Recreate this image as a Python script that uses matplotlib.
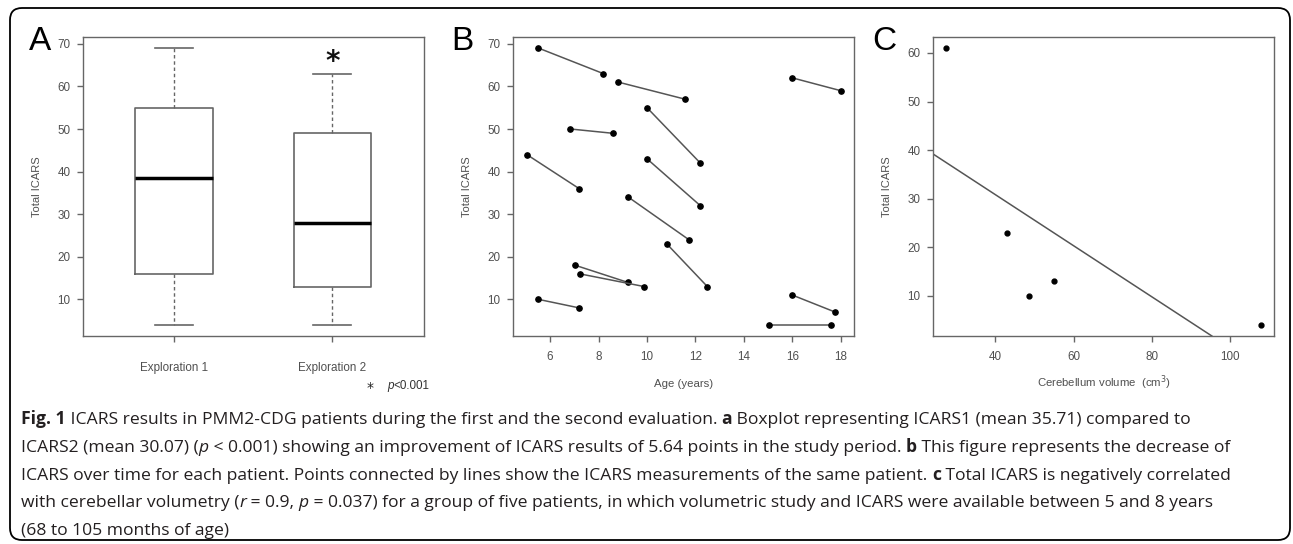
import numpy as np
import matplotlib
matplotlib.use("Agg")
import matplotlib.pyplot as plt
from matplotlib.patches import FancyBboxPatch
from matplotlib.transforms import IdentityTransform

# panel A: boxplot stats (R hinges)
explorations = ["Exploration 1", "Exploration 2"]
whislo = [4, 4]
q1 = [16, 13]
med = [38.5, 28]
q3 = [55, 49]
whishi = [69, 63]

# panel B: age and ICARS at first / second evaluation, one row per patient
age1 = [5.52, 8.82, 16.0, 6.84, 10.0, 5.04, 10.0, 9.23, 10.82, 7.04, 7.22, 5.52, 16.0, 15.02]
age2 = [8.2, 11.57, 17.99, 8.58, 12.2, 7.2, 12.2, 11.73, 12.49, 9.2, 9.89, 7.2, 17.77, 17.59]
icars1 = [69, 61, 62, 50, 55, 44, 43, 34, 23, 18, 16, 10, 11, 4]
icars2 = [63, 57, 59, 49, 42, 36, 32, 24, 13, 14, 13, 8, 7, 4]

# panel C: cerebellum volume vs ICARS
volume = [27.45, 43.0, 48.6, 55.1, 107.9]
icars_c = [61, 23, 10, 13, 4]

W, H = 1293, 544
fig = plt.figure(figsize=(W / 100, H / 100), dpi=100)

GREY = "#666666"
TXT = "#505050"
rfont = "Liberation Sans"


def r_style(ax):
    for s in ax.spines.values():
        s.set_color(GREY)
        s.set_linewidth(1.0)
    ax.tick_params(colors=GREY, labelcolor=TXT, length=4.5, width=1.0,
                   labelsize=8.4, pad=4.5)
    ax.tick_params(axis="x", pad=6.5)
    for lab in ax.get_xticklabels() + ax.get_yticklabels():
        lab.set_fontfamily(rfont)


def add_axes(left_px):
    return fig.add_axes([left_px / W, 1 - 336 / H, 341 / W, 299 / H])


# ---- A ----
axA = add_axes(83)
stats = []
for i in range(2):
    stats.append(dict(label=explorations[i], whislo=whislo[i], q1=q1[i], med=med[i],
                      q3=q3[i], whishi=whishi[i], fliers=[]))
axA.bxp(stats, positions=[1, 2], widths=0.49, showfliers=False,
        boxprops=dict(color=GREY, linewidth=1.2),
        medianprops=dict(color="black", linewidth=2.5),
        whiskerprops=dict(color=GREY, linewidth=1.0, linestyle=(0, (2.5, 2))),
        capprops=dict(color=GREY, linewidth=1.2), capwidths=0.24)
axA.set_xlim(0.424, 2.58)
axA.set_ylim(1.4, 71.6)
axA.set_yticks([10, 20, 30, 40, 50, 60, 70])
axA.set_ylabel("Total ICARS", fontsize=8, color=TXT, fontfamily=rfont)
axA.yaxis.set_label_coords(-41 / 341, 0.5)
r_style(axA)
axA.tick_params(axis="x", pad=14)
axA.text(2, 65.8, "*", ha="center", va="center", fontsize=20, fontweight="bold",
         fontfamily="DejaVu Sans", color="#111111")
fig.text(370 / W, 1 - 388 / H, "*", ha="center", va="center", fontsize=10,
         fontfamily="DejaVu Sans", color="#222222")
fig.text(387 / W, 1 - 386 / H, "p", ha="left", va="center", fontsize=8.4,
         fontstyle="italic", fontfamily=rfont, color="#333333")
fig.text(393 / W, 1 - 386 / H, "<0.001", ha="left", va="center", fontsize=8.4,
         fontfamily=rfont, color="#333333")

# ---- B ----
axB = add_axes(513)
for a1, a2, v1, v2 in zip(age1, age2, icars1, icars2):
    axB.plot([a1, a2], [v1, v2], color="#555555", linewidth=1.1,
             marker="o", markersize=3.8, markerfacecolor="black", markeredgecolor="black")
axB.set_xlim(4.47, 18.54)
axB.set_ylim(1.4, 71.6)
axB.set_xticks([6, 8, 10, 12, 14, 16, 18])
axB.set_yticks([10, 20, 30, 40, 50, 60, 70])
axB.set_ylabel("Total ICARS", fontsize=8, color=TXT, fontfamily=rfont)
axB.yaxis.set_label_coords(-41 / 341, 0.5)
axB.set_xlabel("Age (years)", fontsize=8.2, color=TXT, fontfamily=rfont)
axB.xaxis.set_label_coords(0.5, -43 / 299)
r_style(axB)

# ---- C ----
axC = add_axes(933)
axC.plot(volume, icars_c, "o", color="black", markersize=3.5)
slope, intercept = np.polyfit(volume, icars_c, 1)
axC.axline((0, intercept), slope=slope, color="#555555", linewidth=1.1)
axC.set_xlim(24.1, 111.2)
axC.set_ylim(1.72, 63.28)
axC.set_xticks([40, 60, 80, 100])
axC.set_yticks([10, 20, 30, 40, 50, 60])
axC.set_ylabel("Total ICARS", fontsize=8, color=TXT, fontfamily=rfont)
axC.yaxis.set_label_coords(-41 / 341, 0.5)
axC.set_xlabel("Cerebellum volume  (cm$^3$)", fontsize=8.2, color=TXT, fontfamily=rfont)
axC.xaxis.set_label_coords(0.5, -37 / 299)
r_style(axC)

# panel letters
for letter, xp in [("A", 29), ("B", 451), ("C", 872)]:
    fig.text(xp / W, 1 - 50 / H, letter, ha="left", va="baseline", fontsize=24,
             fontfamily=rfont, color="black")

# caption with mixed bold / italic runs
CAP = "Open Sans"
CAPSIZE = 12.6
N = {}
B = {"fontweight": "bold"}
I = {"fontstyle": "italic"}
caption = [
    [("Fig. 1", B), (" ICARS results in PMM2-CDG patients during the first and the second evaluation. ", N),
     ("a", B), (" Boxplot representing ICARS1 (mean 35.71) compared to", N)],
    [("ICARS2 (mean 30.07) (", N), ("p", I),
     (" < 0.001) showing an improvement of ICARS results of 5.64 points in the study period. ", N),
     ("b", B), (" This figure represents the decrease of", N)],
    [("ICARS over time for each patient. Points connected by lines show the ICARS measurements of the same patient. ", N),
     ("c", B), (" Total ICARS is negatively correlated", N)],
    [("with cerebellar volumetry (", N), ("r", I), (" = 0.9, ", N), ("p", I),
     (" = 0.037) for a group of five patients, in which volumetric study and ICARS were available between 5 and 8 years", N)],
    [("(68 to 105 months of age)", N)],
]
baselines = [424, 452, 480, 507, 535]

renderer = fig.canvas.get_renderer()


def text_width(s, kw):
    t = fig.text(0, 0, "|" + s + "|", fontsize=CAPSIZE, fontfamily=CAP, **kw)
    w = t.get_window_extent(renderer).width
    t.remove()
    t = fig.text(0, 0, "||", fontsize=CAPSIZE, fontfamily=CAP, **kw)
    w -= t.get_window_extent(renderer).width
    t.remove()
    return w


for parts, yb in zip(caption, baselines):
    x = 21.0
    for s, kw in parts:
        fig.text(x / W, 1 - yb / H, s, ha="left", va="baseline", fontsize=CAPSIZE,
                 fontfamily=CAP, color="#231f20", **kw)
        x += text_width(s, kw)

# rounded frame around the whole figure
frame = FancyBboxPatch((10, 4), 1280, 532, boxstyle="round,pad=0,rounding_size=12",
                       transform=IdentityTransform(), fill=False, edgecolor="black",
                       linewidth=1.3)
fig.patches.append(frame)

fig.savefig("out.png", dpi=100)
